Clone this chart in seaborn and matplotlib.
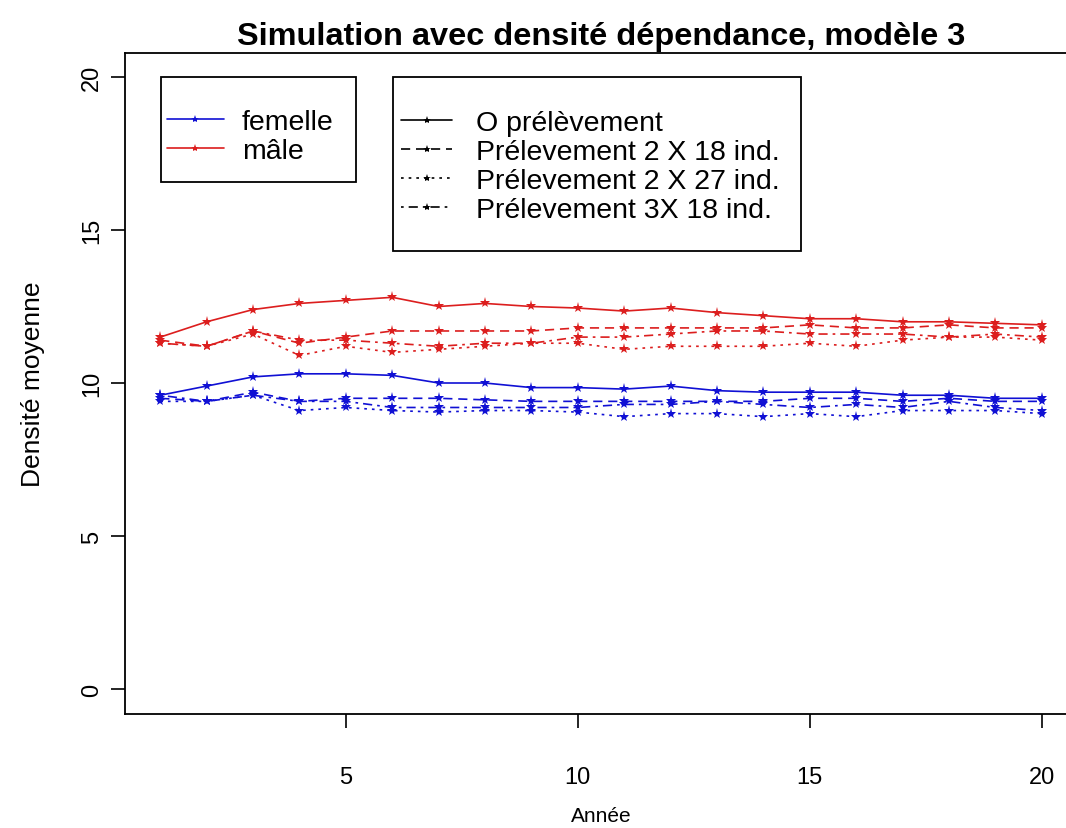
import numpy as np
import pandas as pd
import matplotlib
matplotlib.use("Agg")
import matplotlib.pyplot as plt
from matplotlib.lines import Line2D
from matplotlib.patches import Rectangle
import seaborn as sns

# Années simulées
annees = list(range(1, 21))

# Densité moyenne des mâles selon le scénario de prélèvement
male_0 = [11.5, 12.0, 12.4, 12.6, 12.7, 12.8, 12.5, 12.6, 12.5, 12.45,
          12.35, 12.45, 12.3, 12.2, 12.1, 12.1, 12.0, 12.0, 11.95, 11.9]
male_2x18 = [11.4, 11.2, 11.7, 11.3, 11.5, 11.7, 11.7, 11.7, 11.7, 11.8,
             11.8, 11.8, 11.8, 11.8, 11.9, 11.8, 11.8, 11.9, 11.8, 11.8]
male_2x27 = [11.3, 11.2, 11.6, 10.9, 11.2, 11.0, 11.1, 11.2, 11.3, 11.3,
             11.1, 11.2, 11.2, 11.2, 11.3, 11.2, 11.4, 11.5, 11.5, 11.4]
male_3x18 = [11.3, 11.2, 11.7, 11.4, 11.4, 11.3, 11.2, 11.3, 11.3, 11.5,
             11.5, 11.6, 11.7, 11.7, 11.6, 11.6, 11.6, 11.5, 11.6, 11.5]

# Densité moyenne des femelles selon le scénario de prélèvement
femelle_0 = [9.6, 9.9, 10.2, 10.3, 10.3, 10.25, 10.0, 10.0, 9.85, 9.85,
             9.8, 9.9, 9.75, 9.7, 9.7, 9.7, 9.6, 9.6, 9.5, 9.5]
femelle_2x18 = [9.5, 9.4, 9.7, 9.4, 9.5, 9.5, 9.5, 9.45, 9.4, 9.4,
                9.4, 9.4, 9.4, 9.4, 9.5, 9.5, 9.4, 9.5, 9.4, 9.4]
femelle_2x27 = [9.4, 9.4, 9.6, 9.1, 9.2, 9.1, 9.05, 9.1, 9.1, 9.05,
                8.9, 9.0, 9.0, 8.9, 9.0, 8.9, 9.1, 9.1, 9.1, 9.0]
femelle_3x18 = [9.6, 9.4, 9.6, 9.4, 9.4, 9.2, 9.2, 9.2, 9.2, 9.2,
                9.3, 9.3, 9.4, 9.3, 9.2, 9.3, 9.2, 9.4, 9.2, 9.1]

sexes = ["femelle", "mâle"]
scenarios = ["O prélèvement", "Prélevement 2 X 18 ind.",
             "Prélevement 2 X 27 ind.", "Prélevement 3X 18 ind."]

series = {
    ("femelle", scenarios[0]): femelle_0,
    ("femelle", scenarios[1]): femelle_2x18,
    ("femelle", scenarios[2]): femelle_2x27,
    ("femelle", scenarios[3]): femelle_3x18,
    ("mâle", scenarios[0]): male_0,
    ("mâle", scenarios[1]): male_2x18,
    ("mâle", scenarios[2]): male_2x27,
    ("mâle", scenarios[3]): male_3x18,
}

rows = []
for (sexe, scen), vals in series.items():
    for a, v in zip(annees, vals):
        rows.append({"Année": a, "Densité": v, "Sexe": sexe, "Scénario": scen})
df = pd.DataFrame(rows)

sns.set_style("ticks")
plt.rcParams["font.family"] = ["Liberation Sans", "DejaVu Sans"]
plt.rcParams["text.color"] = "black"
plt.rcParams["axes.labelcolor"] = "black"
plt.rcParams["xtick.color"] = "black"
plt.rcParams["ytick.color"] = "black"

couleurs = {"femelle": "#1010d4", "mâle": "#dc1e1e"}
tirets = {
    scenarios[0]: "",
    scenarios[1]: (5.5, 3.5),
    scenarios[2]: (1.6, 3.0),
    scenarios[3]: (1.6, 3.0, 5.5, 3.0),
}
marqueurs = {s: "*" for s in scenarios}

W, H = 1066, 829
fig = plt.figure(figsize=(W / 100, H / 100), dpi=100)
ax = fig.add_axes([125 / W, 114.5 / H, 952 / W, 661 / H])

sns.lineplot(data=df, x="Année", y="Densité", hue="Sexe", style="Scénario",
             palette=couleurs, dashes=tirets, markers=marqueurs,
             hue_order=sexes, style_order=scenarios,
             estimator=None, errorbar=None, linewidth=1.2, markersize=8,
             markeredgewidth=0, legend=False, ax=ax)

ax.set_xlim(0.24, 20.76)
ax.set_ylim(-0.8, 20.8)
ax.set_xticks([5, 10, 15, 20])
ax.set_yticks([0, 5, 10, 15, 20])
for sp in ax.spines.values():
    sp.set_visible(True)
    sp.set_color("black")
    sp.set_linewidth(1.3)

ax.tick_params(axis="both", direction="out", length=10, width=1.2, color="black",
               labelsize=17)
ax.tick_params(axis="x", pad=28)
ax.tick_params(axis="y", pad=6)
for lab in ax.get_yticklabels():
    lab.set_rotation(90)
    lab.set_va("center")

ax.set_xlabel("Année", fontsize=15, labelpad=13)
ax.set_ylabel("Densité moyenne", fontsize=19, labelpad=26)
ax.set_title("Simulation avec densité dépendance, modèle 3",
             fontsize=23.4, fontweight="bold", pad=6)

# Cadres des légendes
for x0, y0, x1, y1 in [(161, 78, 356, 183), (393, 78, 801, 252)]:
    fig.patches.append(Rectangle((x0 / W, 1 - y1 / H), (x1 - x0) / W, (y1 - y0) / H,
                                 transform=fig.transFigure, fill=False,
                                 edgecolor="black", linewidth=1.3, zorder=4))

# Légende des sexes
h_sexe = [Line2D([], [], color=couleurs[s], lw=1.2, marker="*", markersize=6,
                 markeredgewidth=0) for s in sexes]
leg1 = ax.legend(h_sexe, sexes, loc="upper left",
                 bbox_to_anchor=(167 / W, 1 - 110 / H), bbox_transform=fig.transFigure,
                 borderaxespad=0, fontsize=20.5, handlelength=2.0,
                 handletextpad=0.62, labelspacing=0.12, borderpad=0,
                 frameon=False)
ax.add_artist(leg1)

# Légende des scénarios
h_scen = []
for s in scenarios:
    ls = "-" if tirets[s] == "" else (0, tirets[s])
    h_scen.append(Line2D([], [], color="black", lw=1.2, linestyle=ls,
                         marker="*", markersize=6, markeredgewidth=0))
leg2 = ax.legend(h_scen, scenarios, loc="upper left",
                 bbox_to_anchor=(401 / W, 1 - 111 / H), bbox_transform=fig.transFigure,
                 borderaxespad=0, fontsize=20.5, handlelength=1.8,
                 handletextpad=0.84, labelspacing=0.1, borderpad=0,
                 frameon=False)

fig.savefig("out.png", dpi=100, facecolor="white")
